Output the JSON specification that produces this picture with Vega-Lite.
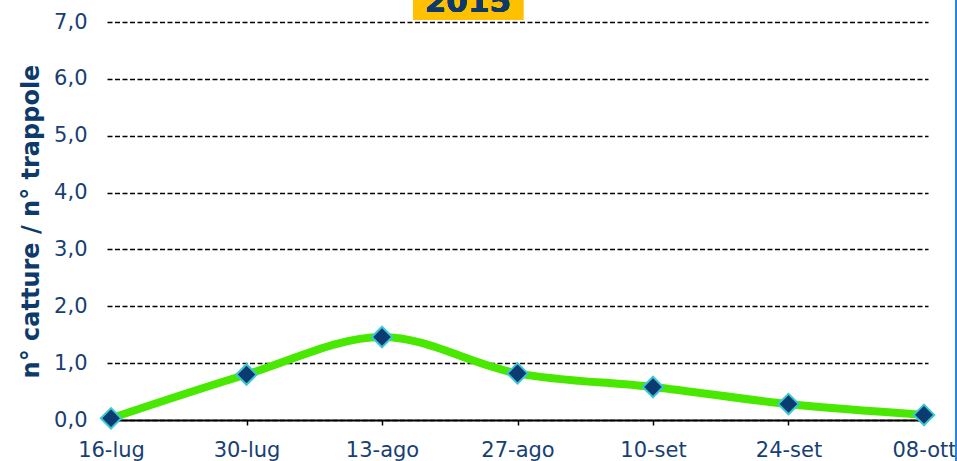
{
  "$schema": "https://vega.github.io/schema/vega-lite/v6.json",
  "width": 821,
  "height": 398,
  "autosize": "none",
  "padding": {"left": 107, "top": 22, "right": 29, "bottom": 41},
  "background": "white",
  "config": {"view": {"stroke": null}},
  "data": {
    "values": [
      {"date": "2015-07-16", "value": 0.03},
      {"date": "2015-07-30", "value": 0.80},
      {"date": "2015-08-13", "value": 1.46},
      {"date": "2015-08-27", "value": 0.82},
      {"date": "2015-09-10", "value": 0.58},
      {"date": "2015-09-24", "value": 0.28},
      {"date": "2015-10-08", "value": 0.09}
    ]
  },
  "encoding": {
    "x": {
      "field": "date",
      "type": "temporal",
      "scale": {
        "type": "utc",
        "nice": false,
        "domain": [
          {"year": 2015, "month": 7, "date": 15, "hours": 14, "utc": true},
          {"year": 2015, "month": 10, "date": 8, "hours": 10, "utc": true}
        ]
      },
      "axis": {
        "title": null,
        "values": [
          {"year": 2015, "month": 7, "date": 16, "utc": true},
          {"year": 2015, "month": 7, "date": 30, "utc": true},
          {"year": 2015, "month": 8, "date": 13, "utc": true},
          {"year": 2015, "month": 8, "date": 27, "utc": true},
          {"year": 2015, "month": 9, "date": 10, "utc": true},
          {"year": 2015, "month": 9, "date": 24, "utc": true},
          {"year": 2015, "month": 10, "date": 8, "utc": true}
        ],
        "labelExpr": "utcFormat(datum.value, '%d') + '-' + ['gen','feb','mar','apr','mag','giu','lug','ago','set','ott','nov','dic'][utcmonth(datum.value)]",
        "grid": false,
        "domainColor": "black",
        "domainWidth": 2,
        "tickColor": "black",
        "tickSize": 5,
        "tickWidth": 1.5,
        "labelFont": "DejaVu Sans",
        "labelFontSize": 21,
        "labelColor": "#173F73",
        "labelPadding": 14,
        "labelOverlap": false,
        "labelFlush": false
      }
    },
    "y": {
      "field": "value",
      "type": "quantitative",
      "scale": {"domain": [0, 7], "nice": false, "zero": true},
      "axis": {
        "title": "n° catture / n° trappole",
        "titleFont": "DejaVu Sans",
        "titleFontSize": 24,
        "titleFontWeight": "bold",
        "titleColor": "#0E3A6B",
        "titlePadding": 10,
        "values": [0, 1, 2, 3, 4, 5, 6, 7],
        "labelExpr": "replace(format(datum.value, '.1f'), '.', ',')",
        "labelFont": "DejaVu Sans",
        "labelFontSize": 21,
        "labelColor": "#173F73",
        "labelPadding": 20,
        "domain": false,
        "ticks": false,
        "grid": true,
        "gridColor": "black",
        "gridDash": [5, 2.5],
        "gridWidth": 1.3,
        "gridOpacity": 1
      }
    }
  },
  "layer": [
    {
      "mark": {"type": "rect", "color": "#FFC000", "clip": false},
      "encoding": {
        "x": {"datum": {"year": 2015, "month": 8, "date": 16, "hours": 5, "utc": true}, "type": "temporal"},
        "x2": {"datum": {"year": 2015, "month": 8, "date": 27, "hours": 14, "utc": true}},
        "y": {"datum": 7.035, "type": "quantitative"},
        "y2": {"datum": 7.6}
      }
    },
    {
      "mark": {"type": "text", "text": "2015", "font": "DejaVu Sans", "fontSize": 31, "fontWeight": "bold", "color": "#0E3A6B", "baseline": "alphabetic", "align": "center", "clip": false},
      "encoding": {
        "x": {"datum": {"year": 2015, "month": 8, "date": 21, "hours": 21, "utc": true}, "type": "temporal"},
        "y": {"datum": 7.175, "type": "quantitative"}
      }
    },
    {
      "mark": {"type": "rule", "color": "#2A85E0", "strokeWidth": 1.5, "clip": false},
      "encoding": {
        "x": {"datum": {"year": 2015, "month": 10, "date": 11, "hours": 7, "utc": true}, "type": "temporal"},
        "y": {"datum": -0.75, "type": "quantitative"},
        "y2": {"datum": 7.6}
      }
    },
    {
      "mark": {"type": "line", "color": "#48E800", "strokeWidth": 8, "interpolate": "catmull-rom"}
    },
    {
      "mark": {"type": "point", "shape": "diamond", "filled": true, "fill": "#0B3B70", "stroke": "#3CC8D2", "strokeWidth": 2, "size": 420, "opacity": 1}
    }
  ]
}
